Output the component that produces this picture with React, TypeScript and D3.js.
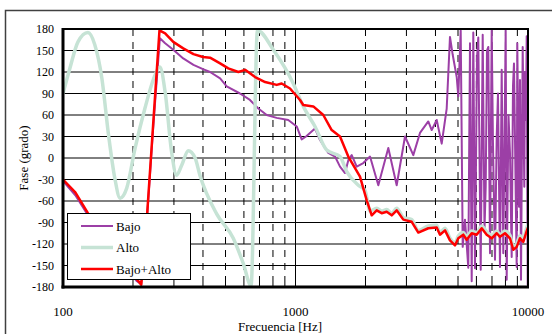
import * as d3 from "d3"

type Pt = [number, number]

// phase readings, [frequency Hz, phase deg]
const bajo: Pt[] = [
  [100, -32], [113, -52], [128, -80], [144, -103], [167, -131], [194, -160], [208, -172], [217, -176],
  [230, -82], [244, 40], [261, 167], [275, 160], [298, 151], [329, 139], [364, 130], [400, 124],
  [429, 120], [474, 111], [506, 100], [577, 90], [637, 81], [692, 69], [752, 60], [830, 56],
  [931, 53], [1012, 44], [1063, 26], [1110, 30], [1213, 41], [1275, 25], [1384, 7], [1479, 2],
  [1554, -12], [1633, -21], [1687, -3], [1745, 4], [1833, -12], [1957, -7], [2092, 2], [2271, -38],
  [2507, 14], [2724, -38], [2958, 30], [3211, 4], [3431, 35], [3725, 51], [3853, 39], [4049, 53],
  [4254, 20], [4470, 69], [4618, 169], [4744, 144], [4936, 113], [5014, 86], [5135, 178], [5238, -124],
  [5358, -86], [5536, -153], [5630, 160], [5726, -172], [5817, 175], [5916, -154], [6034, 140], [6112, 168],
  [6260, -156], [6385, 172], [6500, -100], [6578, -40], [6663, 150], [6750, 155], [6864, -133], [6980, 178],
  [7070, 20], [7212, -142], [7335, 30], [7428, 90], [7577, -152], [7707, 123], [7830, -133], [8017, 178],
  [8097, -170], [8243, 60], [8366, 7], [8508, -138], [8618, 100], [8704, 132], [8940, -152], [8994, 160],
  [9147, -68], [9238, 109], [9330, -170], [9488, 155], [9640, -40], [9707, 120], [9804, 53], [9872, 170],
  [9970, -177], [10000, -100],
]

const alto: Pt[] = [
  [100, 90], [107, 125], [116, 162], [128, 175], [137, 158], [147, 111], [157, 32], [167, -28],
  [176, -56], [188, -42], [204, 13], [225, 69], [249, 116], [261, 127], [275, 92], [293, 9],
  [308, -24], [324, -10], [346, 10], [370, 0], [388, -24], [458, -78], [540, -112], [596, -147],
  [644, -178], [686, 178], [803, 151], [978, 104], [1080, 72], [1213, 44], [1362, 11], [1554, 2],
  [1661, -19], [1863, -38], [1990, -45], [2092, -74], [2235, -70], [2348, -74], [2467, -72], [2593, -77],
  [2724, -70], [2909, -83], [3161, -86], [3375, -101], [3725, -95], [4049, -94], [4183, -104], [4396, -98],
  [4618, -112], [4853, -118], [5014, -109], [5269, -104], [5449, -110], [5726, -102], [6016, -104], [6322, -95],
  [6643, -103], [6980, -108], [7335, -102], [7577, -107], [7961, -102], [8366, -108], [8644, -124], [8940, -120],
  [9238, -108], [9545, -113], [9804, -101], [10000, -92],
]

const bajoAlto: Pt[] = [
  [100, -30], [113, -48], [128, -77], [144, -100], [167, -128], [194, -157], [217, -177], [230, -79],
  [244, 45], [260, 178], [275, 174], [298, 162], [329, 153], [364, 145], [400, 141], [429, 140],
  [474, 132], [514, 125], [568, 120], [607, 123], [670, 113], [740, 106], [830, 102], [872, 104],
  [947, 97], [1046, 81], [1080, 74], [1193, 72], [1317, 60], [1431, 39], [1554, 30], [1687, 2],
  [1894, -26], [2025, -59], [2127, -80], [2235, -73], [2348, -77], [2467, -75], [2593, -80], [2724, -73],
  [2909, -86], [3161, -89], [3375, -104], [3725, -98], [4049, -97], [4183, -107], [4396, -101], [4618, -115],
  [4853, -122], [5014, -112], [5269, -107], [5449, -114], [5726, -105], [6016, -107], [6322, -98], [6643, -107],
  [6980, -112], [7335, -105], [7577, -110], [7961, -105], [8366, -112], [8644, -128], [8940, -124], [9238, -112],
  [9545, -117], [9804, -105], [10000, -97],
]

const yTicks = [-180, -150, -120, -90, -60, -30, 0, 30, 60, 90, 120, 150, 180]
const xLabels = [100, 1000, 10000]

const series = [
  { name: "Bajo", data: bajo, color: "#9c3fa6", width: 2, smooth: false },
  { name: "Alto", data: alto, color: "#c6e3d5", width: 3.5, smooth: true },
  { name: "Bajo+Alto", data: bajoAlto, color: "#ff0000", width: 2.5, smooth: false },
]

const font = "'Liberation Serif', 'Times New Roman', serif"

export default function App() {
  const width = 552
  const height = 334
  const left = 63
  const right = 528
  const top = 29
  const bottom = 287

  const x = d3.scaleLog().domain([100, 10000]).range([left, right])
  const y = d3.scaleLinear().domain([-180, 180]).range([bottom, top])
  const line = d3
    .line<Pt>()
    .x((d) => x(d[0]))
    .y((d) => y(d[1]))
  const smoothLine = d3
    .line<Pt>()
    .x((d) => x(d[0]))
    .y((d) => y(d[1]))
    .curve(d3.curveMonotoneX)

  const minor = x.ticks().filter((t) => ![100, 1000, 10000].includes(t))

  return (
    <svg
      width={width}
      height={height}
      style={{ position: "absolute", left: 0, top: 0, background: "#fff" }}
      fontFamily={font}
    >
      <defs>
        <clipPath id="plot">
          <rect x={left} y={top - 2} width={right - left} height={bottom - top + 4} />
        </clipPath>
      </defs>
      <rect x={5.5} y={10.5} width={600} height={400} fill="none" stroke="#404040" strokeWidth={1.5} />

      {/* horizontal grid */}
      {yTicks.map((t) => (
        <line key={t} x1={left} x2={right} y1={y(t)} y2={y(t)} stroke="#000" strokeWidth={1} />
      ))}
      {/* vertical grid */}
      {minor.map((t) => (
        <line key={t} x1={x(t)} x2={x(t)} y1={top} y2={bottom} stroke="#000" strokeWidth={1} strokeDasharray="7,6" />
      ))}
      <line x1={x(1000)} x2={x(1000)} y1={top} y2={bottom} stroke="#000" strokeWidth={1} />
      {minor.map((t) => (
        <line key={"tk" + t} x1={x(t)} x2={x(t)} y1={bottom} y2={bottom - 4} stroke="#000" strokeWidth={1} />
      ))}

      <g clipPath="url(#plot)">
        {series.map((s) => (
          <path
            key={s.name}
            d={(s.smooth ? smoothLine(s.data) : line(s.data)) || ""}
            fill="none"
            stroke={s.color}
            strokeWidth={s.width}
            strokeLinejoin="round"
          />
        ))}
      </g>

      {/* plot frame */}
      <rect x={left} y={top} width={right - left} height={bottom - top} fill="none" stroke="#000" strokeWidth={2} />
      <line x1={left} x2={left} y1={top - 1} y2={bottom + 1.5} stroke="#000" strokeWidth={3} />
      <line x1={left - 1.5} x2={right + 1} y1={bottom} y2={bottom} stroke="#000" strokeWidth={3} />

      {yTicks.map((t) => (
        <text key={t} x={54} y={y(t)} dy="0.35em" textAnchor="end" fontSize={12} fill="#000">
          {t}
        </text>
      ))}
      {xLabels.map((t) => (
        <text key={t} x={x(t)} y={316} textAnchor="middle" fontSize={13} fill="#000">
          {t}
        </text>
      ))}
      <text x={280} y={331} textAnchor="middle" fontSize={13} fill="#000">
        Frecuencia [Hz]
      </text>
      <text
        transform={`translate(28, ${(top + bottom) / 2}) rotate(-90)`}
        textAnchor="middle"
        fontSize={13}
        fill="#000"
      >
        Fase (grado)
      </text>

      {/* legend */}
      <rect x={67.5} y={213.5} width={123} height={66} fill="#fff" stroke="#000" strokeWidth={1} />
      {series.map((s, i) => (
        <g key={s.name} transform={`translate(0, ${226 + i * 21.5})`}>
          <line x1={81} x2={113} y1={0} y2={0} stroke={s.color} strokeWidth={s.width} />
          <text x={116} y={0} dy="0.35em" fontSize={13} fill="#000">
            {s.name}
          </text>
        </g>
      ))}
    </svg>
  )
}
